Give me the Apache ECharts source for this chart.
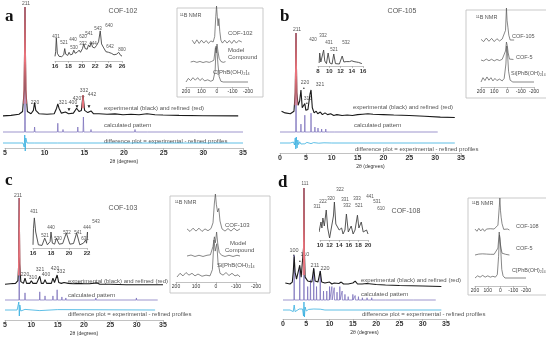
<!DOCTYPE html>
<html>
<head>
<meta charset="utf-8">
<script src="https://cdn.jsdelivr.net/npm/echarts@6/dist/echarts.min.js"></script>
<style>
  html, body { margin: 0; padding: 0; background: #fff; }
  #main { width: 546px; height: 337px; }
</style>
</head>
<body>
<div id="main"></div>
<script>
// ---- data: [2θ, intensity] ----
// panel a, COF-102
const expA = [[5,1],[6,1.5],[7,2.5],[7.45,5],[7.65,25],[7.75,100],[7.85,25],[8.05,5],[8.5,3],[8.8,6],[8.95,13],[9.1,6],[9.5,3],[10.5,2.5],[11.4,3],[11.7,8],[11.85,12],[12,8],[12.3,3.5],[12.8,4.5],[13.2,3],[13.8,3.5],[14.2,8],[14.35,9],[14.5,5],[14.8,6],[15,20],[15.2,6],[15.6,4],[16,5.5],[16.3,3],[17,3],[18,2.5],[19,2.8],[20,2],[21,2.5],[22,2],[23,3],[24,2],[25,1.8],[27,1.5],[30,1.2],[34.4,1]];
const refA = [[7.6,12],[7.7,60],[7.75,100],[7.8,60],[7.9,12],[8.2,'-'],[14.9,8],[15,20],[15.1,8]];
const calcA = [[5,0],[7.7,0],[7.75,100],[7.8,0],[8.9,0],[8.95,4],[9,0],[11.8,0],[11.85,7],[11.9,0],[12.45,0],[12.5,2],[12.55,0],[14.3,0],[14.35,4],[14.4,0],[15,0],[15.05,12],[15.1,0],[15.95,0],[16,2],[16.05,0],[18.05,0],[18.1,1.5],[18.15,0],[21.45,0],[21.5,2],[21.55,0],[23.05,0],[23.1,1],[23.15,0],[29.05,0],[29.1,1],[29.15,0],[35,0]];
const diffA = [[5,0],[7.5,0],[7.65,-20],[7.72,40],[7.78,-40],[7.85,25],[8,0],[8.9,0],[8.95,5],[9,0],[11.8,0],[11.85,-5],[11.9,0],[15,0],[15.05,4],[15.1,0],[35,0]];
const insetA = [[16,15],[16.1,30],[16.2,74],[16.35,25],[16.6,15],[17,14],[17.3,20],[17.45,40],[17.6,22],[17.9,18],[18.1,28],[18.3,20],[18.6,22],[18.8,35],[19,25],[19.3,28],[19.6,35],[19.8,28],[20.1,40],[20.3,55],[20.5,40],[20.8,38],[21,52],[21.2,45],[21.4,60],[21.6,45],[21.9,42],[22.2,50],[22.5,62],[22.75,97],[22.95,55],[23.2,45],[23.6,30],[24,28],[24.4,25],[24.8,20],[25.2,22],[25.5,28],[25.8,18],[26,16]];
// panel b, COF-105
const expB = [[0.3,8],[1,6],[2,5],[2.7,8],[2.95,30],[3.1,100],[3.25,30],[3.5,15],[3.8,20],[4.05,33],[4.3,12],[4.6,10],[4.8,17],[5,9],[5.4,10],[5.8,28],[6,33],[6.25,12],[6.6,6],[7,8],[7.3,5],[7.8,7],[8.2,4],[8.7,6],[9.2,4],[9.8,5],[10.4,3],[11,4],[12,3],[13,3.5],[14,3],[15,4],[16,4.5],[17,5],[18,4.5],[20,4],[22,3.5],[25,3],[28,2],[31,1],[33.8,0.5]];
const refB = [[2.9,15],[3.02,60],[3.1,100],[3.18,60],[3.3,15]];
const calcB = [[0,0],[3.03,0],[3.1,100],[3.17,0],[4,0],[4.05,8],[4.1,0],[4.75,0],[4.8,17],[4.85,0],[5.95,0],[6,19],[6.05,0],[6.7,0],[6.75,5],[6.8,0],[7.3,0],[7.35,4],[7.4,0],[8,0],[8.05,3],[8.1,0],[8.8,0],[8.85,3],[8.9,0],[9.6,0],[9.65,2],[9.7,0],[10.5,0],[10.55,2],[10.6,0],[12,0],[12.05,1],[12.1,0],[30.5,0]];
const diffB = [[0,0],[2,0],[2.6,5],[2.8,-10],[2.95,25],[3.05,-30],[3.15,30],[3.3,-25],[3.45,15],[3.6,-8],[3.8,6],[4.05,-5],[4.3,4],[4.8,-4],[5.2,3],[6,-3],[6.5,2],[7.5,-1],[8.5,1],[10,0],[33.8,0]];
const insetB = [[8.2,15],[8.3,65],[8.5,20],[8.8,30],[9,80],[9.2,25],[9.5,12],[9.8,65],[10.1,15],[10.5,10],[10.8,60],[11.1,12],[11.8,10],[12.3,50],[12.6,20],[13,22],[13.3,28],[13.6,22],[14,26],[14.4,22],[14.8,20],[15.2,18],[15.8,12]];
// panel c, COF-103
const expC = [[5,2],[6,2.5],[7,3],[7.45,6],[7.6,25],[7.7,100],[7.8,25],[8.0,5],[8.5,3],[8.8,9],[9.1,3],[9.7,3],[10,6],[10.3,3],[11,3],[11.6,11],[11.9,3],[12.3,3],[12.6,7],[12.9,3],[13.8,3],[14.1,9],[14.4,4],[14.9,12.5],[15.2,4],[15.7,3],[16.2,4],[17,3],[18,2.5],[19,3],[20,2.5],[21,2.5],[22.5,3.5],[23,2],[25,2],[28,1.5],[31,1.5],[35,1.5]];
const refC = [[7.55,12],[7.65,60],[7.7,100],[7.75,60],[7.85,12]];
const calcC = [[5,0],[7.65,0],[7.7,100],[7.75,0],[8.75,0],[8.8,7],[8.85,0],[11.55,0],[11.6,8],[11.65,0],[12.55,0],[12.6,4],[12.65,0],[14.05,0],[14.1,4],[14.15,0],[14.85,0],[14.9,10],[14.95,0],[15.75,0],[15.8,3],[15.85,0],[16.5,0],[16.55,2],[16.6,0],[22.2,0],[22.25,2],[22.3,0],[29.9,0],[29.95,2],[30,0],[34,0]];
const diffC = [[5,0],[7.3,0],[7.5,-10],[7.62,40],[7.72,-30],[7.82,25],[8,-5],[8.3,0],[8.8,3],[9,0],[11.6,-3],[11.8,0],[15,2],[15.2,0],[33.5,0]];
const insetC = [[16,10],[16.05,60],[16.15,94],[16.3,50],[16.6,10],[17,8],[17.3,31],[17.6,10],[17.9,20],[18,50],[18.15,15],[18.4,12],[18.6,31],[18.9,12],[19.3,14],[19.7,47],[20.1,12],[20.5,14],[20.85,47],[21.2,10],[21.6,15],[21.85,25],[21.95,15],[22.05,50],[22.2,15],[22.4,20],[22.7,78],[22.85,30],[23,8]];
// panel d, COF-108
const expD = [[0.5,4],[1.5,3],[2,5],[2.2,15],[2.4,31],[2.6,15],[2.9,8],[3.3,10],[3.6,22],[3.9,10],[4.25,10],[4.42,40],[4.5,100],[4.58,40],[4.75,10],[5.3,6],[5.7,5],[6.2,5],[6.6,19],[6.9,6],[7.5,5],[8,16],[8.3,5],[9,4],[10,5],[10.5,3],[11,4],[12,3.5],[12.5,5],[13,3],[14,3],[15,4],[15.5,6],[16,3],[17,3],[18,3.5],[20,2.5],[22,2],[25,1.5],[30,1],[34,0.5]];
const refD = [[4.35,12],[4.45,60],[4.5,100],[4.55,60],[4.65,12]];
const calcD = [[0,0],[2.35,0],[2.4,40],[2.45,0],[3.55,0],[3.6,28],[3.65,0],[4.45,0],[4.5,100],[4.55,0],[5.25,0],[5.3,12],[5.35,0],[5.85,0],[5.9,18],[5.95,0],[6.55,0],[6.6,28],[6.65,0],[7.15,0],[7.2,12],[7.25,0],[7.95,0],[8,26],[8.05,0],[8.65,0],[8.7,8],[8.75,0],[9.35,0],[9.4,8],[9.45,0],[9.95,0],[10,12],[10.05,0],[10.45,0],[10.5,12],[10.55,0],[10.95,0],[11,11],[11.05,0],[11.55,0],[11.6,7],[11.65,0],[12.15,0],[12.2,12],[12.25,0],[12.65,0],[12.7,8],[12.75,0],[13.25,0],[13.3,5],[13.35,0],[13.95,0],[14,3],[14.05,0],[14.95,0],[15,5],[15.05,0],[15.45,0],[15.5,4],[15.55,0],[16.15,0],[16.2,3],[16.25,0],[17,0],[17.05,2],[17.1,0],[18,0],[18.05,2],[18.1,0],[19,0],[19.05,2],[19.1,0],[20,0],[20.05,1.5],[20.1,0],[22,0],[22.05,1.5],[22.1,0],[24.5,0],[24.55,1],[24.6,0],[28,0],[28.05,1],[28.1,0],[32.8,0]];
const diffD = [[0,0],[1.5,0],[2.2,-8],[2.4,25],[2.6,-8],[3,0],[3.5,5],[3.7,-5],[4.2,5],[4.4,-30],[4.5,40],[4.6,-35],[4.75,15],[5,-5],[5.5,3],[6.6,5],[6.8,-3],[8,4],[8.2,-2],[9,0],[34,0]];
const insetD = [[9.8,20],[10.2,45],[10.4,30],[10.6,55],[10.9,35],[11.3,75],[11.6,30],[12,5],[12.4,10],[12.8,60],[13,95],[13.3,40],[13.7,45],[14,25],[14.5,30],[14.8,15],[15.2,25],[15.5,65],[15.9,20],[16.5,35],[16.9,15],[17.3,25],[17.8,62],[18.1,30],[18.6,45],[19,20],[19.7,25],[20,15]];

// ---- 11B NMR: [ppm, intensity] ----
const nmrA1 = [[160,5],[145,-5],[130,6],[115,-4],[100,5],[85,-3],[70,4],[55,-4],[40,3],[25,0],[15,15],[8,70],[3,100],[-2,70],[-7,45],[-12,65],[-18,30],[-25,5],[-35,-3],[-50,5],[-65,-3],[-80,4],[-95,-4],[-110,5],[-125,-3],[-140,4],[-160,0]];
const nmrA2 = [[170,0],[150,4],[130,-2],[110,3],[90,-3],[70,2],[50,-2],[35,3],[20,10],[10,80],[5,50],[0,100],[-6,60],[-14,20],[-25,3],[-40,-2],[-55,2]];
const nmrA3 = [[200,0],[185,10],[170,4],[155,12],[140,5],[125,12],[110,4],[95,10],[80,3],[60,6],[40,2],[25,5],[12,30],[6,100],[0,85],[-6,50],[-14,15],[-25,2],[-40,0],[-200,0]];
const nmrB1 = [[200,2],[180,-5],[160,6],[140,-4],[120,5],[100,-5],[80,4],[60,-3],[40,3],[25,5],[15,30],[8,100],[3,60],[-3,40],[-10,15],[-20,0],[-35,4],[-50,0]];
const nmrB2 = [[200,0],[180,-5],[160,5],[140,-4],[120,4],[100,-5],[80,3],[60,-3],[40,4],[25,10],[15,50],[8,100],[2,80],[-5,40],[-15,5],[-30,0],[-45,3]];
const nmrB3 = [[200,0],[185,12],[170,4],[155,14],[140,5],[125,12],[110,3],[95,10],[80,4],[60,8],[40,3],[25,10],[12,50],[6,100],[0,80],[-8,30],[-20,5],[-40,0],[-200,0]];
const nmrC1 = [[145,3],[130,-4],[115,5],[100,-3],[85,5],[70,-4],[55,3],[40,-2],[25,4],[15,20],[8,75],[3,100],[-2,70],[-8,50],[-14,60],[-20,25],[-30,3],[-45,-3],[-60,4],[-75,-3],[-90,5],[-105,-2],[-120,3]];
const nmrC2 = [[145,0],[125,4],[105,-2],[85,3],[65,-2],[45,3],[28,5],[15,40],[8,80],[3,55],[-3,100],[-9,50],[-16,15],[-28,3],[-45,-2],[-65,3],[-85,-2],[-105,3],[-120,0]];
const nmrC3 = [[195,0],[180,10],[165,3],[150,12],[135,5],[120,10],[105,3],[90,8],[70,2],[50,5],[30,3],[18,20],[10,100],[4,70],[-4,90],[-10,40],[-20,10],[-35,5],[-50,12],[-65,4],[-80,10],[-95,3],[-110,6],[-120,0]];
const nmrD1 = [[200,3],[185,-4],[170,5],[155,-3],[140,4],[125,-4],[110,3],[95,-3],[80,4],[65,-2],[50,3],[35,2],[20,15],[10,70],[5,100],[0,60],[-5,40],[-12,20],[-25,2],[-40,-3],[-55,3],[-70,0]];
const nmrD2 = [[200,0],[185,-5],[170,4],[155,-4],[140,5],[125,-3],[110,4],[95,-4],[80,3],[65,-2],[50,3],[35,5],[20,30],[10,100],[4,60],[-4,30],[-12,8],[-25,0],[-40,3],[-55,-2],[-70,0]];
const nmrD3 = [[200,0],[180,5],[160,2],[140,6],[120,2],[100,5],[80,2],[60,4],[40,2],[25,8],[15,50],[8,100],[3,90],[-3,60],[-10,20],[-20,5],[-35,0],[-200,0]];

const EXP = '#1a1a1a', REF = '#e8737c', CALC = '#7468b8', DIFF = '#36aee0', NMR = '#555';

const grids = [], xAxes = [], yAxes = [], series = [], graphics = [];

// one grid per curve, so each curve gets its own baseline
function plot(box, xr, yr, data, color, width, inverse) {
  const i = grids.length;
  grids.push({ left: box[0], top: box[1], width: box[2], height: box[3] });
  xAxes.push({ type: 'value', gridIndex: i, min: xr[0], max: xr[1], inverse: !!inverse, show: false });
  yAxes.push({ type: 'value', gridIndex: i, min: yr[0], max: yr[1], show: false });
  if (data) {
    series.push({
      type: 'line', xAxisIndex: i, yAxisIndex: i, data: data, symbol: 'none',
      clip: false, silent: true, animation: false,
      lineStyle: { color: color, width: width || 0.8 }
    });
  }
  return i;
}

function axis(box, xr, interval, size, bold, inverse, name) {
  const i = plot(box, xr, [0, 1], null, null, null, inverse);
  Object.assign(xAxes[i], {
    show: true, interval: interval,
    axisLine: { lineStyle: { color: '#999', width: 0.6 } },
    axisTick: { length: 2, lineStyle: { color: '#999', width: 0.6 } },
    splitLine: { show: false },
    axisLabel: { fontSize: size, fontWeight: bold ? 'bold' : 'normal', color: '#333', margin: 2, fontFamily: 'Liberation Sans' }
  });
  if (name) {
    Object.assign(xAxes[i], {
      name: name, nameLocation: 'middle', nameGap: 11,
      nameTextStyle: { fontSize: 5, color: '#333', fontFamily: 'Liberation Sans' }
    });
  }
}

function text(x, y, str, size, opt) {
  opt = opt || {};
  graphics.push({
    type: 'text', x: x, y: y, silent: true,
    style: {
      text: str, fill: opt.color || '#555',
      font: (opt.weight || 'normal') + ' ' + size + 'px ' + (opt.family || '"Liberation Sans", Arial, sans-serif'),
      textAlign: opt.align || 'center', textVerticalAlign: 'middle',
      align: opt.align || 'center', verticalAlign: 'middle'
    }
  });
}

function frame(x, y, w, h) {
  graphics.push({ type: 'rect', silent: true, shape: { x: x, y: y, width: w, height: h },
    style: { fill: 'none', stroke: '#bbb', lineWidth: 0.8 } });
}

function letter(x, y, s) {
  text(x, y, s, 17, { weight: 'bold', color: '#111', align: 'left', family: '"Liberation Serif", "DejaVu Serif", serif' });
}

// ---------- panel a ----------
plot([3, 7, 240, 125], [5, 35], [0, 100], calcA, CALC, 0.7);
plot([3, 133, 240, 20], [5, 35], [-50, 50], diffA, DIFF);
plot([3, 7, 240, 110], [5, 35], [0, 100], expA, EXP, 1.1);
plot([3, 7, 240, 110], [5, 35], [0, 100], refA, REF, 1.1);
axis([3, 147, 240, 1], [5, 35], 5, 7, true, false, '2θ (degrees)');
plot([55, 30, 67, 31], [16, 26], [0, 100], insetA, '#444', 0.9);
axis([55, 60, 67, 1], [16, 26], 2, 6, true);
frame(177, 8, 86, 89);
plot([186, 6, 62, 36], [-200, 200], [0, 100], nmrA1, NMR, 0.7, true);
plot([186, 44, 62, 18], [-200, 200], [0, 100], nmrA2, NMR, 0.7, true);
plot([186, 46, 62, 36], [-200, 200], [0, 100], nmrA3, NMR, 0.7, true);
axis([186, 86, 62, 1], [-200, 200], 100, 5, false, true);

letter(5, 17, 'a');
text(123, 11, 'COF-102', 7);
text(26, 4, '211', 5);
text(35, 103, '220', 5);
text(68, 103, '321·400', 5);
text(77, 99, '420', 5);
text(84, 91, '332', 5);
text(92, 95, '442', 5);
text(69, 110, '▼', 5, { color: '#111' });
text(77, 107, '▼', 5, { color: '#111' });
text(83, 98, '▼', 5, { color: '#111' });
text(89, 107, '▼', 5, { color: '#111' });
text(104, 108, 'experimental (black) and refined (red)', 6, { align: 'left' });
text(104, 125, 'calculated pattern', 6, { align: 'left' });
text(104, 141, 'difference plot = experimental - refined profiles', 6, { align: 'left' });
[['431', 56, 37], ['521', 64, 43], ['440', 73, 40], ['530', 74, 48], ['620', 83, 37], ['332', 83, 44],
 ['541', 89, 34], ['444', 93, 44], ['543', 98, 29], ['640', 109, 26], ['642', 110, 47], ['800', 122, 50]]
  .forEach(l => text(l[1], l[2], l[0], 4.5));
text(180, 15, '¹¹B NMR', 5.5, { align: 'left' });
text(228, 33, 'COF-102', 6, { align: 'left' });
text(228, 50, 'Model', 6, { align: 'left' });
text(228, 57, 'Compound', 6, { align: 'left' });
text(213, 72, 'C[PhB(OH)₂]₄', 6, { align: 'left' });

// ---------- panel b ----------
plot([280, 33, 181, 99], [0, 35], [0, 100], calcB, CALC, 0.7);
plot([280, 133, 181, 20], [0, 35], [-50, 50], diffB, DIFF);
plot([280, 33, 181, 85], [0, 35], [0, 100], expB, EXP, 1.1);
plot([280, 33, 181, 85], [0, 35], [0, 100], refB, REF, 1.1);
axis([280, 152, 181, 1], [0, 35], 5, 7, true, false, '2θ (degrees)');
plot([318, 46, 45, 20], [8, 16], [0, 100], insetB, '#444', 0.9);
axis([318, 65, 45, 1], [8, 16], 2, 6, true);
frame(466, 10, 82, 88);
plot([481, 8, 53, 32], [-200, 200], [0, 100], nmrB1, NMR, 0.7, true);
plot([481, 42, 53, 18], [-200, 200], [0, 100], nmrB2, NMR, 0.7, true);
plot([481, 46, 53, 36], [-200, 200], [0, 100], nmrB3, NMR, 0.7, true);
axis([481, 86, 53, 1], [-200, 200], 100, 5, false, true);

letter(280, 17, 'b');
text(402, 11, 'COF-105', 7);
text(297, 30, '211', 5);
text(305, 83, '220', 5);
text(308, 99, '310', 5);
text(320, 85, '321', 5);
text(304, 89, '•', 5, { color: '#111' });
text(307, 104, '•', 5, { color: '#111' });
text(353, 107, 'experimental (black) and refined (red)', 6, { align: 'left' });
text(354, 125, 'calculated pattern', 6, { align: 'left' });
text(355, 149, 'difference plot = experimental - refined profiles', 6, { align: 'left' });
[['420', 313, 40], ['332', 323, 36], ['431', 329, 43], ['521', 334, 50], ['532', 346, 43]]
  .forEach(l => text(l[1], l[2], l[0], 4.5));
text(476, 17, '¹¹B NMR', 5.5, { align: 'left' });
text(512, 36, 'COF-105', 5.5, { align: 'left' });
text(516, 57, 'COF-5', 5.5, { align: 'left' });
text(511, 73, 'Si[PhB(OH)₂]₄', 5.5, { align: 'left' });

// ---------- panel c ----------
plot([5, 198, 158, 102], [5, 35], [0, 100], calcC, CALC, 0.7);
plot([5, 300, 158, 20], [5, 35], [-50, 50], diffC, DIFF);
plot([5, 198, 158, 88], [5, 35], [0, 100], expC, EXP, 1.1);
plot([5, 198, 158, 88], [5, 35], [0, 100], refC, REF, 1.1);
axis([5, 319, 158, 1], [5, 35], 5, 7, true, false, '2θ (degrees)');
plot([33, 216, 54, 32], [16, 22], [0, 100], insetC, '#444', 0.9);
axis([33, 247, 54, 1], [16, 22], 2, 6, true);
frame(170, 196, 100, 97);
plot([176, 194, 80, 36], [-200, 200], [0, 100], nmrC1, NMR, 0.7, true);
plot([176, 232, 80, 24], [-200, 200], [0, 100], nmrC2, NMR, 0.7, true);
plot([176, 240, 80, 37], [-200, 200], [0, 100], nmrC3, NMR, 0.7, true);
axis([176, 281, 80, 1], [-200, 200], 100, 5, false, true);

letter(5, 181, 'c');
text(123, 208, 'COF-103', 7);
text(18, 196, '211', 5);
text(25, 275, '220', 5);
text(33, 278, '310', 5);
text(40, 270, '321', 5);
text(46, 275, '400', 5);
text(55, 269, '420', 5);
text(61, 272, '332', 5);
text(68, 281, 'experimental (black) and refined (red)', 6, { align: 'left' });
text(68, 295, 'calculated pattern', 6, { align: 'left' });
text(68, 314, 'difference plot = experimental - refined profiles', 6, { align: 'left' });
[['431', 34, 212], ['521', 45, 236], ['440', 51, 228], ['530', 58, 239], ['532', 67, 233],
 ['541', 78, 233], ['631', 85, 239], ['444', 87, 228], ['543', 96, 222]]
  .forEach(l => text(l[1], l[2], l[0], 4.5));
text(175, 202, '¹¹B NMR', 5.5, { align: 'left' });
text(225, 225, 'COF-103', 6, { align: 'left' });
text(230, 243, 'Model', 6, { align: 'left' });
text(225, 250, 'Compound', 6, { align: 'left' });
text(217, 265, 'Si[PhB(OH)₂]₄', 6, { align: 'left' });

// ---------- panel d ----------
plot([283, 188, 163, 112], [0, 35], [0, 100], calcD, CALC, 0.7);
plot([283, 300, 163, 20], [0, 35], [-50, 50], diffD, DIFF);
plot([283, 188, 163, 99], [0, 35], [0, 100], expD, EXP, 1.1);
plot([283, 188, 163, 99], [0, 35], [0, 100], refD, REF, 1.1);
axis([283, 318, 163, 1], [0, 35], 5, 7, true, false, '2θ (degrees)');
plot([320, 200, 48, 40], [10, 20], [0, 100], insetD, '#444', 0.9);
axis([320, 239, 48, 1], [10, 20], 2, 6, true);
frame(468, 198, 80, 97);
plot([475, 198, 51, 32], [-200, 200], [0, 100], nmrD1, NMR, 0.7, true);
plot([475, 232, 51, 23], [-200, 200], [0, 100], nmrD2, NMR, 0.7, true);
plot([475, 235, 51, 43], [-200, 200], [0, 100], nmrD3, NMR, 0.7, true);
axis([475, 285, 51, 1], [-200, 200], 100, 5, false, true);

letter(278, 183, 'd');
text(406, 211, 'COF-108', 7);
text(305, 184, '111', 4.5);
text(294, 250, '100', 5.5);
text(305, 254, '110', 5.5);
text(315, 265, '211', 5.5);
text(325, 268, '220', 5.5);
text(294, 256, '•', 5, { color: '#111' });
text(300, 262, '•', 5, { color: '#111' });
text(361, 280, 'experimental (black) and refined (red)', 6, { align: 'left' });
text(361, 294, 'calculated pattern', 6, { align: 'left' });
text(362, 314, 'difference plot = experimental - refined profiles', 6, { align: 'left' });
[['311', 317, 207], ['222', 323, 202], ['320', 331, 199], ['322', 340, 190], ['331', 345, 200],
 ['332', 347, 206], ['333', 357, 199], ['521', 359, 206], ['441', 370, 197], ['531', 377, 202], ['610', 381, 209]]
  .forEach(l => text(l[1], l[2], l[0], 4.5));
text(472, 203, '¹¹B NMR', 5.5, { align: 'left' });
text(516, 226, 'COF-108', 5.5, { align: 'left' });
text(516, 248, 'COF-5', 5.5, { align: 'left' });
text(512, 270, 'C[PhB(OH)₂]₄', 5.5, { align: 'left' });

const chart = echarts.init(document.getElementById('main'));
chart.setOption({
  animation: false,
  backgroundColor: '#fff',
  grid: grids,
  xAxis: xAxes,
  yAxis: yAxes,
  series: series,
  graphic: { elements: graphics }
});
</script>
</body>
</html>
